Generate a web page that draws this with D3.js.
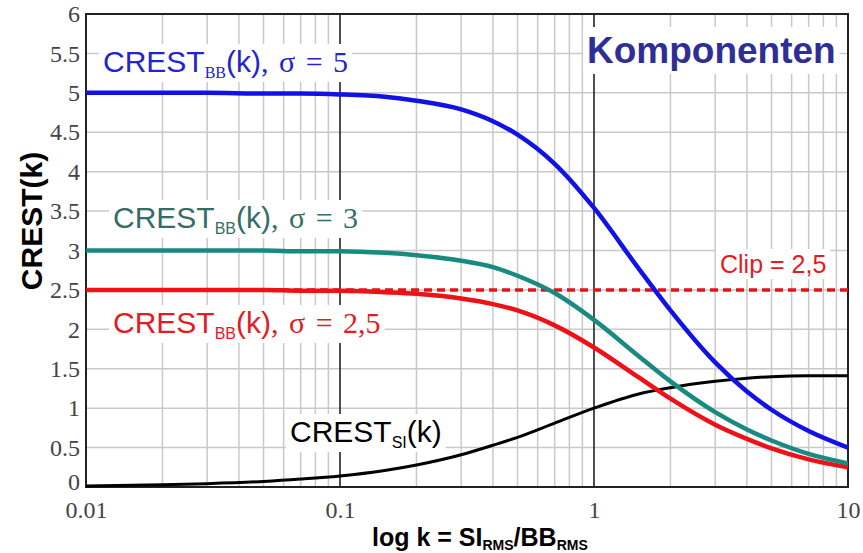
<!DOCTYPE html>
<html>
<head>
<meta charset="utf-8">
<script src="https://cdn.jsdelivr.net/npm/d3@7"></script>
<style>
  html, body { margin: 0; padding: 0; background: #fff; }
  svg { display: block; }
</style>
</head>
<body>
<svg id="chart" width="863" height="553"></svg>
<script>
// Sample points of the ratio k = SI_RMS / BB_RMS
const kValues = [0.01, 0.02, 0.03, 0.05, 0.07, 0.1, 0.15, 0.2, 0.3, 0.4, 0.5, 0.7, 1, 1.5, 2, 3, 4, 5, 7, 10];

// Crest factor of the broadband component for three sigma settings
const crestBB5  = [5.00, 5.00, 5.00, 4.99, 4.99, 4.98, 4.95, 4.90, 4.79, 4.64, 4.47, 4.10, 3.54, 2.77, 2.24, 1.58, 1.21, 0.98, 0.71, 0.50];
const crestBB3  = [3.00, 3.00, 3.00, 3.00, 2.99, 2.99, 2.97, 2.94, 2.87, 2.79, 2.68, 2.46, 2.12, 1.66, 1.34, 0.95, 0.73, 0.59, 0.42, 0.30];
const crestBB25 = [2.50, 2.50, 2.50, 2.50, 2.49, 2.49, 2.47, 2.45, 2.39, 2.32, 2.24, 2.05, 1.77, 1.39, 1.12, 0.79, 0.61, 0.49, 0.35, 0.25];
// Crest factor of the sine component
const crestSI   = [0.014, 0.028, 0.042, 0.07, 0.10, 0.14, 0.21, 0.28, 0.41, 0.53, 0.63, 0.81, 1.00, 1.18, 1.26, 1.34, 1.38, 1.40, 1.41, 1.41];

const clipLevel = 2.5;

const xTicks = [0.01, 0.1, 1, 10];
const xTickLabels = ["0.01", "0.1", "1", "10"];
const yTicks = [0, 0.5, 1, 1.5, 2, 2.5, 3, 3.5, 4, 4.5, 5, 5.5, 6];
const yTickLabels = ["0", "0.5", "1", "1.5", "2", "2.5", "3", "3.5", "4", "4.5", "5", "5.5", "6"];

const svg = d3.select("#chart");
const plotL = 86, plotR = 848, plotT = 14, plotB = 487;

const x = d3.scaleLog().domain([0.01, 10]).range([plotL, plotR]);
const y = d3.scaleLinear().domain([0, 6]).range([plotB, plotT]);

const sans = "'Liberation Sans', Arial, sans-serif";
const serif = "'Liberation Serif', 'Times New Roman', serif";

// Minor log grid (2..9 in each decade)
const minorX = [];
[0.01, 0.1, 1].forEach(d => { for (let m = 2; m <= 9; m++) minorX.push(d * m); });

const grid = svg.append("g");
grid.selectAll("line.mx").data(minorX).join("line")
  .attr("x1", d => x(d)).attr("x2", d => x(d))
  .attr("y1", plotT).attr("y2", plotB)
  .attr("stroke", "#c9c9c9").attr("stroke-width", 1.5);
grid.selectAll("line.hy").data(yTicks.slice(1, -1)).join("line")
  .attr("x1", plotL).attr("x2", plotR)
  .attr("y1", d => y(d)).attr("y2", d => y(d))
  .attr("stroke", "#c9c9c9").attr("stroke-width", 1.5);
// Decade lines
grid.selectAll("line.dx").data([0.1, 1]).join("line")
  .attr("x1", d => x(d)).attr("x2", d => x(d))
  .attr("y1", plotT).attr("y2", plotB)
  .attr("stroke", "#222").attr("stroke-width", 1.6);

// Labels sit on white boxes that mask the grid
const labelLayer = svg.append("g");
function boxed(xp, yp, build, pad) {
  const g = labelLayer.append("g").attr("transform", `translate(${xp},${yp})`);
  const r = g.append("rect").attr("fill", "#fff");
  const t = g.append("text");
  build(t);
  const b = t.node().getBBox();
  r.attr("x", b.x - pad[0]).attr("y", b.y - pad[1])
   .attr("width", b.width + 2 * pad[0]).attr("height", b.height + 2 * pad[1]);
  return g;
}

function curveLabel(xp, yp, color, sub, subFont, tail) {
  boxed(xp, yp, t => {
    t.attr("fill", color).attr("font-family", sans).attr("font-size", 30);
    t.append("tspan").text("CREST");
    t.append("tspan").attr("font-family", subFont).attr("font-size", 16).attr("dy", 6).text(sub);
    t.append("tspan").attr("dy", -6).text("(k)");
    if (tail) t.append("tspan").attr("font-family", serif).attr("word-spacing", 3).text(tail);
  }, [4, 1]);
}

// Frame
svg.append("rect").attr("x", plotL).attr("y", plotT)
  .attr("width", plotR - plotL).attr("height", plotB - plotT)
  .attr("fill", "none").attr("stroke", "#222").attr("stroke-width", 2);

// Axes (tick labels only; the frame carries the axis lines)
const xAxis = d3.axisBottom(x).tickValues(xTicks)
  .tickFormat((d, i) => xTickLabels[i]).tickSize(0).tickPadding(14);
const yAxis = d3.axisLeft(y).tickValues(yTicks)
  .tickFormat((d, i) => yTickLabels[i]).tickSize(0).tickPadding(6);

const gx = svg.append("g").attr("transform", `translate(0,${plotB})`).call(xAxis);
const gy = svg.append("g").attr("transform", `translate(${plotL},0)`).call(yAxis);
[gx, gy].forEach(g => {
  g.select(".domain").remove();
  g.selectAll("text")
    .attr("font-family", serif)
    .attr("font-size", 24).attr("fill", "#444");
});
// lift the zero label a touch so it clears "0.01" below it
gy.selectAll("text").filter(d => d === 0).attr("dy", "0.1em");

// Clip level, dashed
svg.append("line")
  .attr("x1", x(0.01)).attr("x2", x(10))
  .attr("y1", y(clipLevel)).attr("y2", y(clipLevel))
  .attr("stroke", "#e8101a").attr("stroke-width", 3.5)
  .attr("stroke-dasharray", "8,5");

const line = d3.line().x((d, i) => x(kValues[i])).y(d => y(d)).curve(d3.curveMonotoneX);
const series = [
  { v: crestSI,   c: "#000000", w: 3 },
  { v: crestBB25, c: "#ee1118", w: 4.5 },
  { v: crestBB3,  c: "#188a80", w: 4.5 },
  { v: crestBB5,  c: "#1212e6", w: 4.5 }
];
svg.append("g").selectAll("path").data(series).join("path")
  .attr("d", s => line(s.v))
  .attr("fill", "none").attr("stroke", s => s.c).attr("stroke-width", s => s.w)
  .attr("stroke-linejoin", "round");

svg.node().appendChild(labelLayer.node());

curveLabel(103, 72, "#2323d0", "BB", serif, ", σ = 5");
curveLabel(113, 228, "#356d66", "BB", sans, ", σ = 3");
curveLabel(113, 333, "#e31b23", "BB", sans, ", σ = 2,5");
curveLabel(290, 442, "#000", "SI", sans, "");

boxed(720, 273, t => {
  t.attr("fill", "#e31b23").attr("font-family", sans).attr("font-size", 25).text("Clip = 2,5");
}, [4, 1]);

boxed(587, 63, t => {
  t.attr("fill", "#2e2e96").attr("font-family", sans).attr("font-weight", "bold")
   .attr("font-size", 37).text("Komponenten");
}, [4, 3]);

// Axis titles
svg.append("text").attr("transform", "translate(42,221) rotate(-90)")
  .attr("text-anchor", "middle").attr("font-family", sans).attr("font-weight", "bold")
  .attr("font-size", 30).text("CREST(k)");

const xt = svg.append("text").attr("x", 372).attr("y", 546)
  .attr("font-family", sans).attr("font-weight", "bold").attr("font-size", 25);
xt.append("tspan").text("log k = SI");
xt.append("tspan").attr("font-size", 14).attr("dy", 4).text("RMS");
xt.append("tspan").attr("dy", -4).text("/BB");
xt.append("tspan").attr("font-size", 14).attr("dy", 4).text("RMS");
</script>
</body>
</html>
